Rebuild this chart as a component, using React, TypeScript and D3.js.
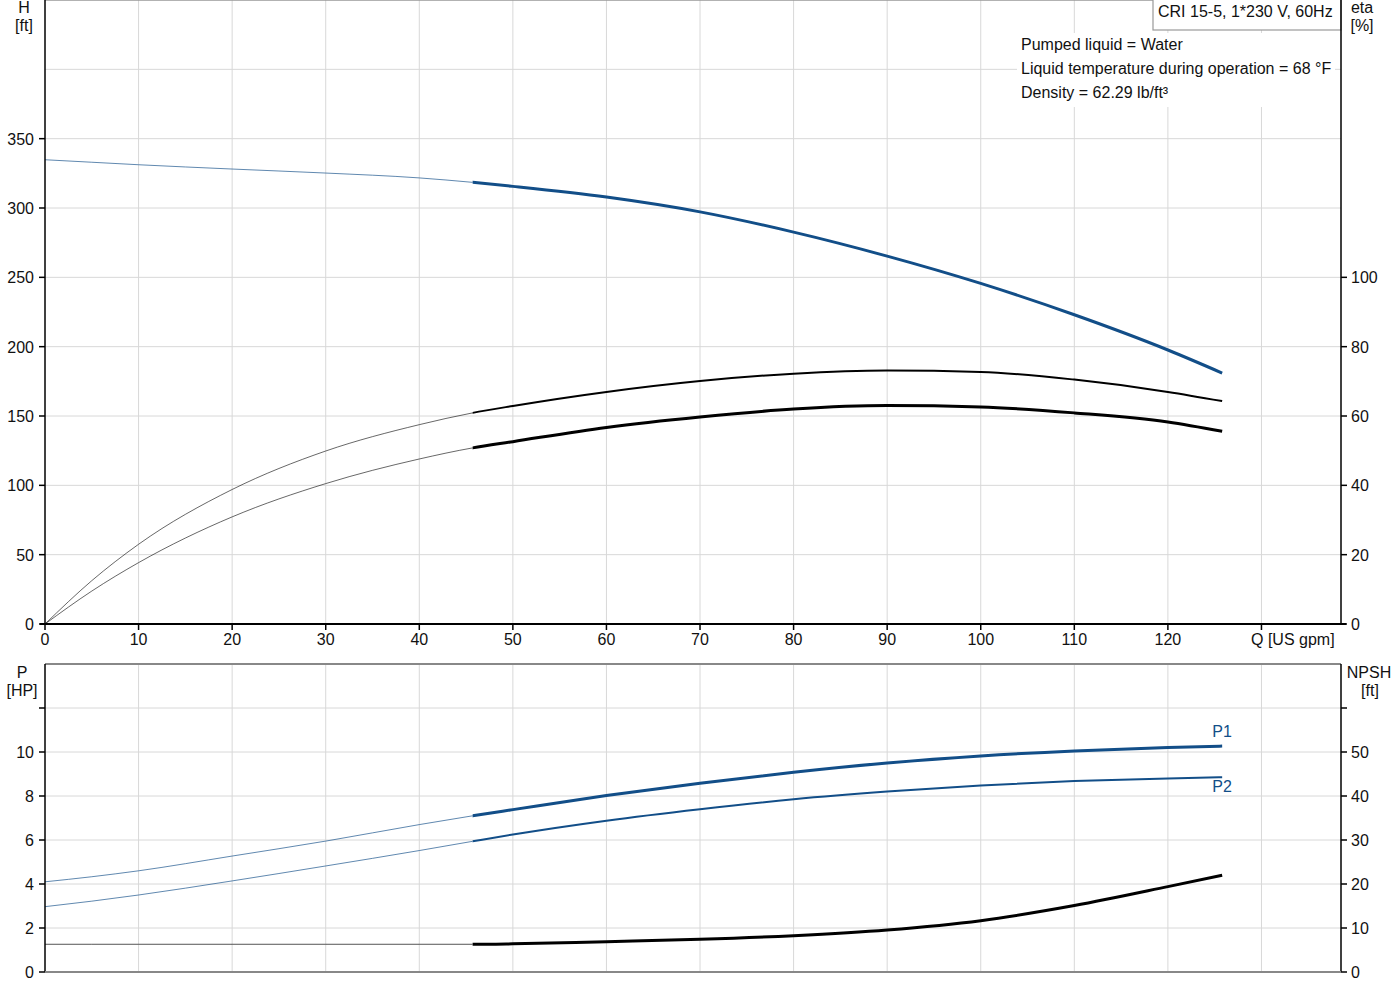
import React from "react";
import * as d3 from "d3";

// ---- data ----
const flow = [0, 5, 10, 20, 30, 40, 45.7, 50, 60, 70, 80, 90, 100, 110, 120, 125.8];
const head = [334.8, 333.0, 331.2, 328.1, 325.2, 321.7, 318.5, 315.6, 307.9, 297.2, 282.6, 265.3, 245.6, 223.0, 197.6, 181.0];
const etaPump = [0, 12.5, 23.0, 38.8, 49.9, 57.5, 60.9, 62.9, 66.95, 70.1, 72.2, 73.1, 72.7, 70.5, 66.95, 64.3];
const etaTotal = [0, 9.5, 17.7, 30.9, 40.5, 47.6, 50.8, 52.6, 56.7, 59.7, 62.0, 63.0, 62.6, 60.9, 58.3, 55.6];
const powerP1 = [4.1, 4.33, 4.6, 5.27, 5.95, 6.7, 7.1, 7.38, 8.02, 8.58, 9.08, 9.5, 9.82, 10.05, 10.2, 10.27];
const powerP2 = [2.97, 3.22, 3.5, 4.14, 4.82, 5.52, 5.94, 6.25, 6.88, 7.4, 7.85, 8.2, 8.48, 8.68, 8.8, 8.85];
const npsh = [6.3, 6.3, 6.3, 6.3, 6.3, 6.3, 6.3, 6.4, 6.9, 7.42, 8.26, 9.55, 11.67, 15.1, 19.4, 22.0];
const opStartFlow = 45.7; // operating range starts here

const qTicks = [0, 10, 20, 30, 40, 50, 60, 70, 80, 90, 100, 110, 120];
const qGrid = [10, 20, 30, 40, 50, 60, 70, 80, 90, 100, 110, 120, 130];
const hTicks = [0, 50, 100, 150, 200, 250, 300, 350];
const hGrid = [50, 100, 150, 200, 250, 300, 350, 400, 450];
const etaTicks = [0, 20, 40, 60, 80, 100];
const pTicks = [0, 2, 4, 6, 8, 10, 12];
const pLabels = [0, 2, 4, 6, 8, 10];
const pGrid = [2, 4, 6, 8, 10, 12, 14];
const npshTicks = [0, 10, 20, 30, 40, 50, 60];
const npshLabels = [0, 10, 20, 30, 40, 50];

const title = "CRI 15-5, 1*230 V, 60Hz";
const infoLines = [
  "Pumped liquid = Water",
  "Liquid temperature during operation = 68 °F",
  "Density = 62.29 lb/ft³",
];

const BLUE = "#124e88";
const GRID = "#d8d8d8";
const FONT = "'Liberation Sans', Arial, sans-serif";
const TXT = "#111";

export default function App() {
  const x = d3.scaleLinear().domain([0, 138.5]).range([45, 1341]);
  const yH = d3.scaleLinear().domain([0, 450]).range([624, 0]);
  const yEta = d3.scaleLinear().domain([0, 180]).range([624, 0]);
  const yP = d3.scaleLinear().domain([0, 14]).range([972, 664]);
  const yN = d3.scaleLinear().domain([0, 70]).range([972, 664]);

  const line = d3.line().curve(d3.curveMonotoneX);
  const mk = (vals: number[], y: d3.ScaleLinear<number, number>) =>
    line(flow.map((q, i) => [x(q), y(vals[i])] as [number, number])) || "";

  const curves = [
    { d: mk(head, yH), color: BLUE, w: 3, tw: 0.9 },
    { d: mk(etaPump, yEta), color: "#000", w: 2, tw: 0.8 },
    { d: mk(etaTotal, yEta), color: "#000", w: 3, tw: 0.8 },
    { d: mk(powerP1, yP), color: BLUE, w: 3, tw: 0.9 },
    { d: mk(powerP2, yP), color: BLUE, w: 2, tw: 0.9 },
    { d: mk(npsh, yN), color: "#000", w: 3, tw: 0.9 },
  ];

  const last = flow.length - 1;
  const xs = x(opStartFlow);

  return (
    <div style={{ position: "absolute", left: 0, top: 0 }}>
      <svg width={1400} height={1000} style={{ display: "block", background: "#fff" }} fontFamily={FONT} fontSize={16}>
        <defs>
          <clipPath id="clipThin">
            <rect x={0} y={0} width={xs} height={1000} />
          </clipPath>
          <clipPath id="clipThick">
            <rect x={xs} y={0} width={1400 - xs} height={1000} />
          </clipPath>
        </defs>
        {/* grids top */}
        {qGrid.map((q) => (
          <line key={"vg1" + q} x1={x(q)} x2={x(q)} y1={yH(450)} y2={yH(0)} stroke={GRID} strokeWidth={1} />
        ))}
        {hGrid.map((h) => (
          <line key={"hg1" + h} x1={x(0)} x2={x(138.5)} y1={yH(h)} y2={yH(h)} stroke={h === 450 ? "#999" : GRID} strokeWidth={h === 450 ? 1.5 : 1} />
        ))}
        {/* grids bottom */}
        {qGrid.map((q) => (
          <line key={"vg2" + q} x1={x(q)} x2={x(q)} y1={yP(14)} y2={yP(0)} stroke={GRID} strokeWidth={1} />
        ))}
        {pGrid.map((p) => (
          <line key={"hg2" + p} x1={x(0)} x2={x(138.5)} y1={yP(p)} y2={yP(p)} stroke={p === 14 ? "#888" : GRID} strokeWidth={p === 14 ? 2 : 1} />
        ))}

        {/* info text background */}
        <rect x={1017} y={33} width={318} height={74} fill="#fff" />
        {infoLines.map((t, i) => (
          <text key={t} x={1021} y={50 + i * 24} fill={TXT}>{t}</text>
        ))}
        {/* title box */}
        <rect x={1153} y={-1} width={188} height={31} fill="#fff" stroke="#999" strokeWidth={1.2} />
        <text x={1158} y={17} fill={TXT}>{title}</text>

        {/* curves */}
        {curves.map((c, i) => (
          <g key={"c" + i} fill="none" stroke={c.color}>
            <path d={c.d} strokeWidth={c.tw} strokeOpacity={0.75} clipPath="url(#clipThin)" />
            <path d={c.d} strokeWidth={c.w} clipPath="url(#clipThick)" />
          </g>
        ))}
        <text x={x(flow[last])} y={yP(powerP1[last]) - 9} fill={BLUE} textAnchor="middle">P1</text>
        <text x={x(flow[last])} y={yP(powerP2[last]) + 15} fill={BLUE} textAnchor="middle">P2</text>

        {/* top axes */}
        <line x1={x(0)} x2={x(0)} y1={0} y2={yH(0)} stroke="#000" strokeWidth={1.5} />
        <line x1={x(138.5)} x2={x(138.5)} y1={0} y2={yH(0)} stroke="#000" strokeWidth={1.5} />
        <line x1={x(0) - 5} x2={x(138.5) + 5} y1={yH(0)} y2={yH(0)} stroke="#000" strokeWidth={2} />
        {hTicks.map((h) => (
          <g key={"ht" + h}>
            <line x1={x(0) - 6} x2={x(0)} y1={yH(h)} y2={yH(h)} stroke="#000" strokeWidth={1.5} />
            <text x={34} y={yH(h) + 6} textAnchor="end" fill={TXT}>{h}</text>
          </g>
        ))}
        {etaTicks.map((e) => (
          <g key={"et" + e}>
            <line x1={x(138.5)} x2={x(138.5) + 6} y1={yEta(e)} y2={yEta(e)} stroke="#000" strokeWidth={1.5} />
            <text x={1351} y={yEta(e) + 6} fill={TXT}>{e}</text>
          </g>
        ))}
        {qTicks.map((q) => (
          <g key={"qt" + q}>
            <line x1={x(q)} x2={x(q)} y1={yH(0)} y2={yH(0) + 6} stroke="#000" strokeWidth={1.5} />
            <text x={x(q)} y={645} textAnchor="middle" fill={TXT}>{q}</text>
          </g>
        ))}
        <line x1={x(130)} x2={x(130)} y1={yH(0)} y2={yH(0) + 6} stroke="#000" strokeWidth={1.5} />
        <text x={1251} y={645} fill={TXT}>Q [US gpm]</text>
        <text x={24} y={13} textAnchor="middle" fill={TXT}>H</text>
        <text x={24} y={31} textAnchor="middle" fill={TXT}>[ft]</text>
        <text x={1362} y={13} textAnchor="middle" fill={TXT}>eta</text>
        <text x={1362} y={31} textAnchor="middle" fill={TXT}>[%]</text>

        {/* bottom axes */}
        <line x1={x(0)} x2={x(0)} y1={yP(14)} y2={yP(0)} stroke="#000" strokeWidth={1.5} />
        <line x1={x(138.5)} x2={x(138.5)} y1={yP(14)} y2={yP(0)} stroke="#000" strokeWidth={1.5} />
        <line x1={x(0)} x2={x(138.5)} y1={yP(0)} y2={yP(0)} stroke="#888" strokeWidth={2} />
        {pTicks.map((p) => (
          <line key={"pt" + p} x1={x(0) - 6} x2={x(0)} y1={yP(p)} y2={yP(p)} stroke="#000" strokeWidth={1.5} />
        ))}
        {pLabels.map((p) => (
          <text key={"pl" + p} x={34} y={yP(p) + 6} textAnchor="end" fill={TXT}>{p}</text>
        ))}
        {npshTicks.map((n) => (
          <line key={"nt" + n} x1={x(138.5)} x2={x(138.5) + 6} y1={yN(n)} y2={yN(n)} stroke="#000" strokeWidth={1.5} />
        ))}
        {npshLabels.map((n) => (
          <text key={"nl" + n} x={1351} y={yN(n) + 6} fill={TXT}>{n}</text>
        ))}
        <text x={22} y={678} textAnchor="middle" fill={TXT}>P</text>
        <text x={22} y={696} textAnchor="middle" fill={TXT}>[HP]</text>
        <text x={1369} y={678} textAnchor="middle" fill={TXT}>NPSH</text>
        <text x={1370} y={696} textAnchor="middle" fill={TXT}>[ft]</text>
      </svg>
    </div>
  );
}
